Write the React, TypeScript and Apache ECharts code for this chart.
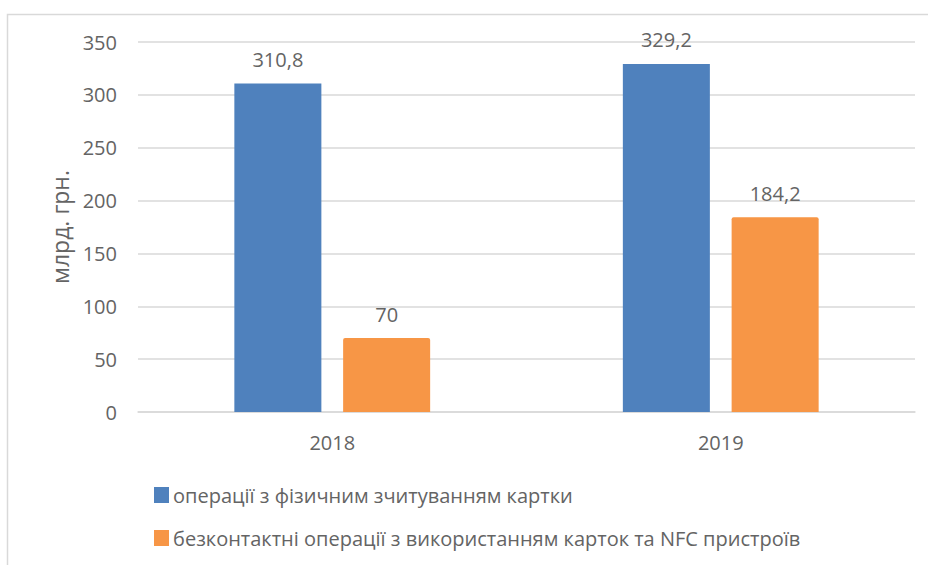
import React, { useEffect, useRef } from "react";
import * as echarts from "echarts";

const categories = ["2018", "2019"];
const physicalValues = [310.8, 329.2];
const contactlessValues = [70, 184.2];
const seriesNames = [
  "операції з фізичним зчитуванням картки",
  "безконтактні операції з використанням карток та NFC пристроїв",
];
const yTicks = { min: 0, max: 350, interval: 50 };

const FONT = "'Open Sans', Lato, sans-serif";
const TEXT = "#646464";

export default function App() {
  const ref = useRef<HTMLDivElement>(null);
  useEffect(() => {
    if (!ref.current) return;
    const chart = echarts.init(ref.current, null, { renderer: "svg" });
    const fmt = (p: any) => String(p.value).replace(".", ",");
    chart.setOption({
      animation: false,
      textStyle: { fontFamily: FONT },
      graphic: [
        {
          type: "rect",
          left: 5,
          top: 12,
          shape: { width: 940, height: 570 },
          style: { fill: "none", stroke: "#d9d9d9", lineWidth: 1.5 },
          silent: true,
        },
      ],
      grid: { left: 138, right: 13, top: 42, bottom: 153 },
      legend: {
        orient: "vertical",
        left: 154,
        top: 485,
        padding: 0,
        itemGap: 23,
        itemWidth: 15,
        itemHeight: 16,
        icon: "rect",
        textStyle: { color: TEXT, fontSize: 20, fontFamily: FONT, padding: [0, 0, 0, -1] },
        data: seriesNames,
      },
      xAxis: {
        type: "category",
        data: categories,
        axisLine: { show: true, lineStyle: { color: "#d9d9d9", width: 1.5 } },
        axisTick: { show: false },
        axisLabel: { color: TEXT, fontSize: 20, margin: 20, fontFamily: FONT },
      },
      yAxis: {
        type: "value",
        min: yTicks.min,
        max: yTicks.max,
        interval: yTicks.interval,
        name: "млрд. грн.",
        nameLocation: "middle",
        nameGap: 60,
        nameTextStyle: { color: TEXT, fontSize: 23, fontFamily: FONT },
        axisLine: { show: false },
        axisTick: { show: false },
        axisLabel: { color: TEXT, fontSize: 20, margin: 21, fontFamily: FONT },
        splitLine: { lineStyle: { color: "#d9d9d9", width: 1.5 } },
      },
      series: [
        {
          name: seriesNames[0],
          type: "bar",
          data: physicalValues,
          barWidth: "22.4%",
          barGap: "25%",
          itemStyle: { color: "#4f81bd" },
          label: { show: true, position: "top", distance: 14, color: TEXT, fontSize: 20, fontFamily: FONT, formatter: fmt },
        },
        {
          name: seriesNames[1],
          type: "bar",
          data: contactlessValues,
          barWidth: "22.4%",
          itemStyle: { color: "#f79646", borderRadius: [2, 2, 0, 0] },
          label: { show: true, position: "top", distance: 14, color: TEXT, fontSize: 20, fontFamily: FONT, formatter: fmt },
        },
      ],
    });
    return () => chart.dispose();
  }, []);
  return <div ref={ref} style={{ width: 928, height: 565, position: "absolute", left: 0, top: 0 }} />;
}
